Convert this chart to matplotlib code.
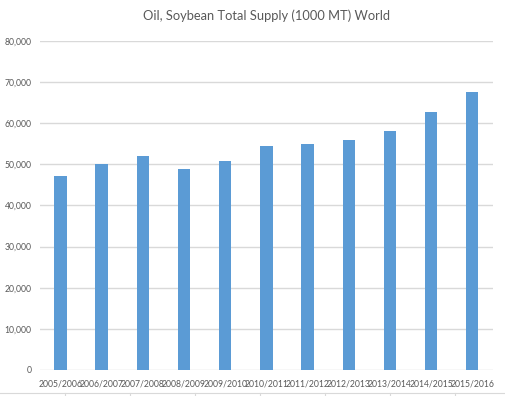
import matplotlib
matplotlib.use("Agg")
import matplotlib.pyplot as plt
from matplotlib.lines import Line2D
from matplotlib.ticker import FuncFormatter

years = ["2005/2006", "2006/2007", "2007/2008", "2008/2009", "2009/2010", "2010/2011",
         "2011/2012", "2012/2013", "2013/2014", "2014/2015", "2015/2016"]
supply = [47200, 50100, 52000, 48900, 50800, 54400, 54900, 55900, 58100, 62700, 67600]
yticks = [0, 10000, 20000, 30000, 40000, 50000, 60000, 70000, 80000]

plt.rcParams["font.family"] = ["Lato", "DejaVu Sans"]
text_color = "#595959"
grid_color = "#D9D9D9"

fig = plt.figure(figsize=(5.05, 3.96), dpi=100)
ax = fig.add_axes([0.079, 0.0657, 0.897, 0.8308])

x = range(len(years))
ax.bar(x, supply, width=0.3, color="#5B9BD5", zorder=3)

ax.set_xlim(-0.5, len(years) - 0.5)
ax.set_ylim(0, 80000)
ax.set_yticks(yticks)
ax.yaxis.set_major_formatter(FuncFormatter(lambda v, p: f"{int(v):,}"))
ax.set_xticks(list(x))
ax.set_xticklabels(years)
ax.tick_params(axis="both", length=0, labelsize=6.2, colors=text_color)
ax.tick_params(axis="y", pad=6)
ax.tick_params(axis="x", pad=7)
ax.grid(axis="y", color=grid_color, linewidth=1, zorder=0)
for s in ["top", "right", "left", "bottom"]:
    ax.spines[s].set_visible(False)

ax.set_title("Oil, Soybean Total Supply (1000 MT) World", fontsize=9.3,
             color=text_color, pad=15)

# spreadsheet cell borders peeking in at the bottom
fig.add_artist(Line2D([0, 1], [0.008, 0.008], color=grid_color, linewidth=0.8))
for cx in [65, 130, 195, 260, 325, 390, 455]:
    fig.add_artist(Line2D([cx / 505, cx / 505], [0, 0.008], color=grid_color, linewidth=0.8))

fig.savefig("out.png", dpi=100)
